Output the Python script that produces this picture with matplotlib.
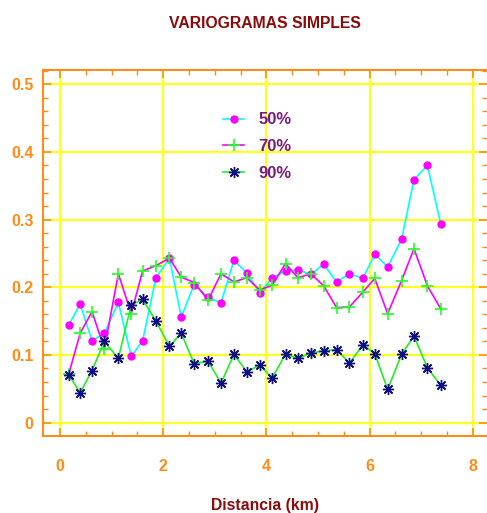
import numpy as np
import matplotlib
matplotlib.use('Agg')
import matplotlib.pyplot as plt
from matplotlib.ticker import MultipleLocator

plt.rcParams['font.family'] = ['Liberation Sans', 'DejaVu Sans']
plt.rcParams['font.weight'] = 'bold'

# distancias (km)
dist = [0.17, 0.39, 0.62, 0.86, 1.13, 1.38, 1.60, 1.86, 2.12, 2.35,
        2.60, 2.87, 3.12, 3.37, 3.62, 3.87, 4.11, 4.37, 4.61, 4.86,
        5.11, 5.36, 5.61, 5.87, 6.10, 6.35, 6.62, 6.86, 7.12, 7.38]

v50 = [0.144, 0.175, 0.121, 0.132, 0.178, 0.098, 0.121, 0.214, 0.243, 0.156,
       0.204, 0.185, 0.177, 0.240, 0.221, 0.192, 0.214, 0.224, 0.226, 0.219,
       0.234, 0.208, 0.220, 0.213, 0.249, 0.230, 0.271, 0.359, 0.380, 0.293]

v70 = [0.072, 0.132, 0.164, 0.109, 0.220, 0.161, 0.224, 0.232, 0.243, 0.215,
       0.207, 0.181, 0.220, 0.208, 0.214, 0.196, 0.203, 0.235, 0.214, 0.220,
       0.202, 0.170, 0.171, 0.193, 0.213, 0.161, 0.210, 0.257, 0.202, 0.168]

v90 = [0.071, 0.044, 0.077, 0.120, 0.095, 0.174, 0.182, 0.150, 0.113, 0.132,
       0.087, 0.091, 0.058, 0.101, 0.075, 0.085, 0.066, 0.101, 0.095, 0.103,
       0.106, 0.108, 0.088, 0.115, 0.102, 0.049, 0.101, 0.128, 0.081, 0.055]

orange = '#FF8C1A'
dark_red = '#8B0A0A'
purple = '#7A1A7A'

fig = plt.figure(figsize=(4.87, 5.13), dpi=100)
ax = fig.add_axes([43/487, 1 - 435.5/513, 444/487, 365.5/513])

ax.plot(dist, v50, color='#00FFFF', lw=1.2, marker='o', ms=5,
        mfc='#FF00FF', mec='#FF00FF', label='50%', zorder=3)
ax.plot(dist, v70, color='#FF00FF', lw=1.2, marker='+', ms=8, mew=1.2,
        mec='#22FF22', label='70%', zorder=4)
ax.plot(dist, v90, color='#22EE22', lw=1.2, marker=(8, 2, 0), ms=8, mew=1.0,
        mec='#101080', label='90%', zorder=5)

ax.set_xlim(-0.33, 8.275)
ax.set_ylim(-0.019, 0.521)

ax.xaxis.set_major_locator(MultipleLocator(2))
ax.xaxis.set_minor_locator(MultipleLocator(0.5))
ax.yaxis.set_major_locator(MultipleLocator(0.1))
ax.yaxis.set_minor_locator(MultipleLocator(0.02))
ax.yaxis.set_major_formatter(plt.FuncFormatter(lambda v, p: '0' if abs(v) < 1e-9 else ('%.1f' % v)))

ax.grid(True, which='major', color='#FFFF22', lw=1.6)
ax.set_axisbelow(True)

for s in ['left', 'bottom', 'top']:
    ax.spines[s].set_color(orange)
    ax.spines[s].set_linewidth(1.5)
ax.spines['right'].set_visible(False)

ax.tick_params(which='both', direction='in', top=True, right=True, colors=orange,
               labelsize=11.5)
ax.tick_params(which='major', length=6, width=1.2)
ax.tick_params(which='minor', length=3.5, width=1.0)
ax.tick_params(axis='x', pad=17)
ax.tick_params(axis='y', pad=7)
for lab in ax.get_xticklabels() + ax.get_yticklabels():
    lab.set_fontweight('bold')

ax.set_title('VARIOGRAMAS SIMPLES', color=dark_red, fontsize=11.3,
             fontweight='bold', pad=30)
ax.set_xlabel('Distancia (km)', color=dark_red, fontsize=11.3,
              fontweight='bold', labelpad=17)

leg = ax.legend(loc='upper left', bbox_to_anchor=(0.371, 0.925), frameon=False,
                numpoints=1, handlelength=1.3, handletextpad=0.85,
                labelspacing=0.7, prop={'size': 12, 'weight': 'bold'})
for t in leg.get_texts():
    t.set_color(purple)

fig.savefig('out.png', dpi=100)
